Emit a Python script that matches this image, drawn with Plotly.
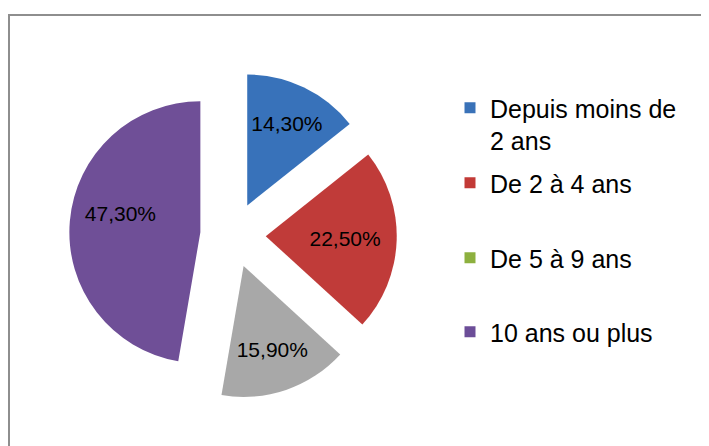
import plotly.graph_objects as go

labels = ["Depuis moins de<br>2 ans", "De 2 à 4 ans", "De 5 à 9 ans", "10 ans ou plus"]
values = [14.3, 22.5, 15.9, 47.3]
value_text = ["14,30%", "22,50%", "15,90%", "47,30%"]
slice_colors = ["#3872BA", "#C03B39", "#A8A8A8", "#6F4F97"]
legend_colors = ["#3A72B8", "#C23A36", "#8DB03F", "#6C4E98"]

W, H = 709, 446
FONT = "Liberation Sans, Arial, sans-serif"
OFF = 8  # page body margin offset

# pie geometry (screen pixels)
cx, cy, r, pull = 233 - OFF, 235 - OFF, 131, 0.25
half = r * (1 + pull)

# the large slice's label sits further out (left/up) in the original
NB = "\u00a0"
templates = ["%{text}"] * 3 + ["%{text}" + NB * 5 + "<br>" + NB]

fig = go.Figure()
fig.add_trace(go.Pie(
    values=values,
    labels=labels,
    text=value_text,
    textinfo="text",
    texttemplate=templates,
    textposition="inside",
    insidetextorientation="horizontal",
    textfont=dict(family=FONT, size=21, color="#000000"),
    sort=False,
    direction="clockwise",
    rotation=0,
    pull=[pull] * len(values),
    marker=dict(colors=slice_colors, line=dict(width=0)),
    showlegend=False,
    hoverinfo="skip",
    domain=dict(x=[(cx - half) / W, (cx + half) / W],
                y=[1 - (cy + half) / H, 1 - (cy - half) / H]),
))

# legend entries (centres in screen pixels)
legend_y_px = [124, 183, 258, 332]
legend_names = ["legend", "legend2", "legend3", "legend4"]
layout_legends = {}
for i, (lab, col) in enumerate(zip(labels, legend_colors)):
    fig.add_trace(go.Scatter(
        x=[None], y=[None], mode="markers", name=lab,
        marker=dict(symbol="square", size=11, color=col),
        legend=legend_names[i], showlegend=True,
    ))
    layout_legends[legend_names[i]] = dict(
        x=(450 - OFF) / W, xanchor="left",
        y=1 - (legend_y_px[i] - OFF) / H, yanchor="middle",
        font=dict(family=FONT, size=25, color="#000000"),
        bgcolor="rgba(0,0,0,0)", borderwidth=0,
        valign="top",
    )

fig.update_layout(
    width=W, height=H,
    margin=dict(l=0, r=0, t=0, b=0),
    paper_bgcolor="white", plot_bgcolor="white",
    font=dict(family=FONT),
    xaxis=dict(visible=False), yaxis=dict(visible=False),
    shapes=[dict(type="rect", xref="paper", yref="paper",
                 x0=1 / W, x1=1.05, y0=-0.05, y1=1 - 7 / H,
                 line=dict(color="#8E8E8E", width=2), fillcolor="rgba(0,0,0,0)")],
    **layout_legends,
)

fig.write_html("out.html")
